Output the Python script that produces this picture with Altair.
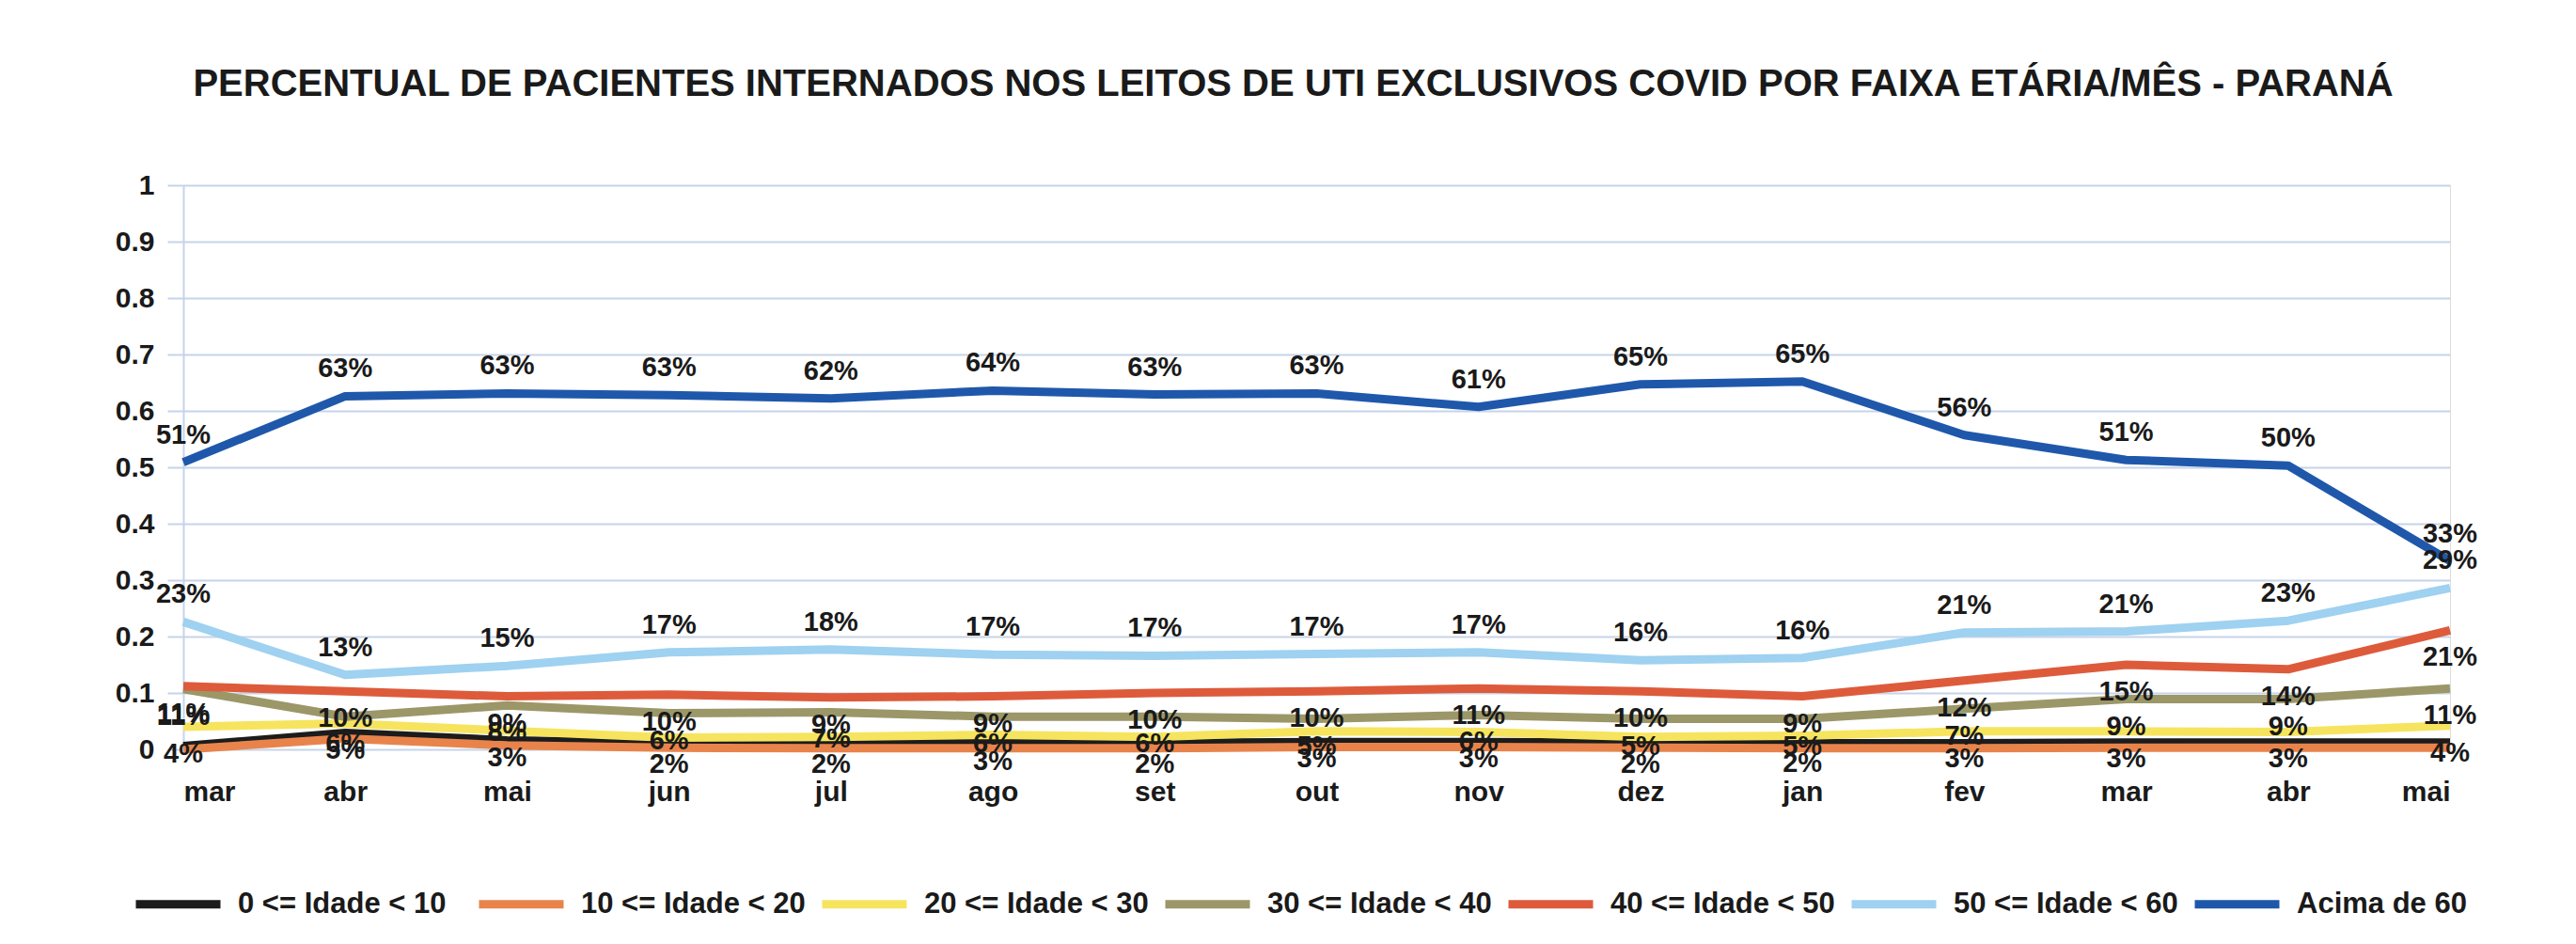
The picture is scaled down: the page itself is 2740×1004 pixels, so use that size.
import json
import altair as alt
import pandas as pd

# ---- data ----
months = ["mar", "abr", "mai", "jun", "jul", "ago", "set", "out", "nov", "dez",
          "jan", "fev", "mar", "abr", "mai"]

series_names = ["0 <= Idade < 10", "10 <= Idade < 20", "20 <= Idade < 30",
                "30 <= Idade < 40", "40 <= Idade < 50", "50 <= Idade < 60",
                "Acima de 60"]

idade_0_10 = [0.006, 0.029, 0.016, 0.012, 0.011, 0.011, 0.011, 0.013, 0.013,
              0.012, 0.011, 0.011, 0.012, 0.012, 0.012]
idade_10_20 = [0.000, 0.019, 0.007, 0.003, 0.002, 0.002, 0.002, 0.004, 0.004,
               0.003, 0.002, 0.002, 0.003, 0.003, 0.003]
idade_20_30 = [0.040, 0.046, 0.033, 0.021, 0.022, 0.026, 0.022, 0.032, 0.031,
               0.022, 0.024, 0.032, 0.032, 0.031, 0.042]
idade_30_40 = [0.107, 0.058, 0.078, 0.064, 0.066, 0.058, 0.058, 0.054, 0.061,
               0.054, 0.054, 0.072, 0.089, 0.089, 0.108]
idade_40_50 = [0.112, 0.103, 0.094, 0.097, 0.092, 0.094, 0.100, 0.103, 0.108,
               0.103, 0.094, 0.122, 0.150, 0.142, 0.211]
idade_50_60 = [0.226, 0.132, 0.148, 0.172, 0.177, 0.168, 0.166, 0.169, 0.172,
               0.158, 0.162, 0.207, 0.209, 0.228, 0.286]
acima_60 = [0.509, 0.626, 0.631, 0.628, 0.622, 0.636, 0.629, 0.631, 0.607,
            0.647, 0.652, 0.557, 0.513, 0.503, 0.334]

all_series = [idade_0_10, idade_10_20, idade_20_30, idade_30_40,
              idade_40_50, idade_50_60, acima_60]

colors = ["#1c1c1c", "#E8844B", "#F6E45F", "#9B9768", "#DD5B3B", "#9FD1F0", "#1F58AB"]

labels_above = ["50 <= Idade < 60", "Acima de 60"]
labels_below = ["20 <= Idade < 30", "30 <= Idade < 40", "40 <= Idade < 50"]

title_text = ("PERCENTUAL DE PACIENTES INTERNADOS NOS LEITOS DE UTI EXCLUSIVOS "
              "COVID POR FAIXA ETÁRIA/MÊS - PARANÁ")

# ---- build table ----
rows = []
for k, (name, vals) in enumerate(zip(series_names, all_series)):
    for i, v in enumerate(vals):
        rows.append({"serie": name, "idx": i, "valor": v, "ordem": k})
df = pd.DataFrame(rows)

FONT = "Liberation Sans, Arimo, Arial, sans-serif"
GRID = "#C6D3E9"
TXT = "#1a1a1a"

month_expr = json.dumps(months) + "[datum.value]"

x_enc = alt.X(
    "idx:Q",
    scale=alt.Scale(domain=[0, len(months) - 1], nice=False, zero=False),
    axis=alt.Axis(values=list(range(len(months))), labelExpr=month_expr,
                  grid=False, domain=False, ticks=False, title=None,
                  labelFontSize=30, labelFont=FONT, labelFontWeight="bold",
                  labelColor=TXT, labelPadding=30, labelBaseline="top"),
)
y_enc = alt.Y(
    "valor:Q",
    scale=alt.Scale(domain=[0, 1], nice=False, zero=True),
    axis=alt.Axis(values=[round(i / 10, 1) for i in range(11)], format="~g",
                  grid=True, gridColor=GRID, gridWidth=2,
                  domain=True, domainColor=GRID, domainWidth=2,
                  ticks=True, tickSize=17, tickColor=GRID, tickWidth=2,
                  labelPadding=14, labelFontSize=30, labelFont=FONT,
                  labelFontWeight="bold", labelColor=TXT, title=None),
)

color_enc = alt.Color(
    "serie:N",
    scale=alt.Scale(domain=series_names, range=colors),
    legend=alt.Legend(
        title=None, orient="none", legendX=-55, legendY=715,
        direction="horizontal", columns=7, gridAlign="all",
        symbolType="stroke", symbolSize=8100, symbolStrokeWidth=9,
        labelFontSize=31, labelFont=FONT, labelFontWeight="bold",
        labelColor=TXT, labelOffset=14, columnPadding=-1, labelLimit=0,
        padding=0,
    ),
)

base = alt.Chart(df)

# one line layer per series so the drawing order follows the series order
line_layers = []
for name in series_names:
    line_layers.append(
        base.transform_filter(alt.datum.serie == name)
        .mark_line(strokeWidth=9, strokeJoin="round", strokeCap="butt")
        .encode(x=x_enc, y=y_enc, color=color_enc, order="idx:Q")
    )

text_common = dict(font=FONT, fontSize=29, fontWeight="bold", color=TXT,
                   align="center", baseline="middle")

above = base.transform_filter(
    alt.FieldOneOfPredicate(field="serie", oneOf=labels_above)
).transform_calculate(
    rotulo="format(datum.valor, '.0%')"
).mark_text(dy=-29, **text_common).encode(
    x="idx:Q", y="valor:Q", text="rotulo:N"
)

below = base.transform_filter(
    alt.FieldOneOfPredicate(field="serie", oneOf=labels_below)
).transform_calculate(
    rotulo="format(datum.valor, '.0%')"
).mark_text(dy=29, **text_common).encode(
    x="idx:Q", y="valor:Q", text="rotulo:N"
)

chart = alt.layer(*line_layers, below, above).properties(
    width=2411,
    height=600,
    title=alt.TitleParams(title_text, fontSize=40, font=FONT, fontWeight="bold",
                          color=TXT, anchor="middle", baseline="alphabetic",
                          offset=40, dx=-25),
    autosize=alt.AutoSizeParams(type="none"),
    padding={"left": 187, "top": 189, "right": 126, "bottom": 199},
).configure_view(
    stroke=GRID, strokeWidth=2
).configure(background="white")

chart.save("out.html", embed_options={"renderer": "svg", "actions": False})
